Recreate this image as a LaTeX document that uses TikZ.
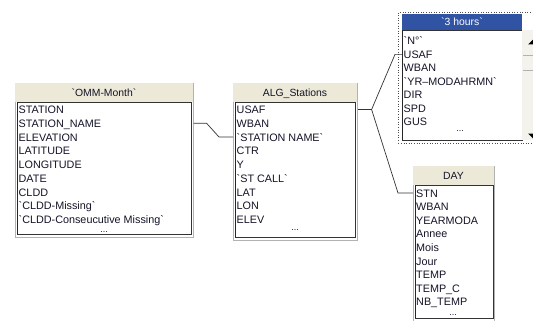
\documentclass[tikz,border=0pt]{standalone}
\usepackage{fontspec}
\setmainfont{Liberation Sans}
\definecolor{hdr}{RGB}{236,233,216}
\definecolor{selblue}{RGB}{49,83,164}
\definecolor{txt}{RGB}{20,20,40}
\definecolor{sbar}{RGB}{243,242,236}
\newcommand{\bq}{\textasciigrave}
\begin{document}
\begin{tikzpicture}[x=1pt,y=-1pt,
  frame/.style={draw=gray!60, fill=white, line width=0.6pt, inner sep=0pt, anchor=north west},
  dotframe/.style={draw=black!70, dotted, fill=white, line width=0.6pt, inner sep=0pt, anchor=north west},
  list/.style={draw=black!80, fill=white, line width=0.7pt, inner sep=0pt, anchor=north west},
  row/.style={anchor=west, inner sep=0pt, text height=8pt, text depth=0pt, font=\fontsize{10.8}{12}\selectfont, text=txt},
  dots/.style={inner sep=0pt, text height=1.5pt, text depth=0pt, font=\fontsize{9}{10}\selectfont, text=txt},
  title/.style={inner sep=0pt, text height=8pt, text depth=0pt, font=\fontsize{10.4}{12}\selectfont, text=txt},
  link/.style={draw=black!80, line width=0.7pt}]
\useasboundingbox (0,0) rectangle (533,321);
\fill[white] (0,0) rectangle (533,321);

% ---------- `OMM-Month` ----------
\node[frame, minimum width=178pt, minimum height=154pt] (omm) at (15,83) {};
\fill[hdr] (15.4,83.4) rectangle (192.6,102);
\node[list, minimum width=174pt, minimum height=132pt] (ommlist) at (17,102) {};
\draw[black!85, line width=1pt] (17.3,102) -- (17.3,234);
\node[title] (ommt) at (104,92.5) {\bq OMM-Month\bq};
\foreach \t [count=\i] in {STATION, STATION\_NAME, ELEVATION, LATITUDE, LONGITUDE, DATE, CLDD, \bq CLDD-Missing\bq, \bq CLDD-Conseucutive Missing\bq}
  \node[row] (omm\i) at (18.5,95.75+13.75*\i) {\t};
\node[dots] (ommdots) at (104,232) {...};

% ---------- ALG_Stations ----------
\node[frame, minimum width=124pt, minimum height=157pt] (alg) at (233,83) {};
\fill[hdr] (233.4,83.4) rectangle (356.6,102);
\node[list, minimum width=120pt, minimum height=135pt] (alglist) at (235,102) {};
\draw[black!85, line width=1pt] (235.3,102) -- (235.3,237);
\node[title] (algt) at (295,92.5) {ALG\_Stations};
\foreach \t [count=\i] in {USAF, WBAN, \bq STATION NAME\bq, CTR, Y, \bq ST CALL\bq, LAT, LON, ELEV}
  \node[row] (alg\i) at (236.5,95.75+13.75*\i) {\t};
\node[dots] (algdots) at (295,229.5) {...};

% ---------- `3 hours` ----------
\node[dotframe, minimum width=134.5pt, minimum height=131pt] (hrs) at (398,12) {};
\fill[selblue] (402,14) rectangle (522,30);
\node[list, minimum width=120pt, minimum height=110pt] (hrslist) at (402,30) {};
\draw[black!85, line width=1pt] (402.3,30) -- (402.3,140);
\fill[sbar] (522.4,30) rectangle (533,140);
\draw[gray!60, line width=0.5pt] (523,55) -- (533,55) (523,70) -- (533,70);
\fill[black] (528,44.5) -- (533,44.5) -- (533,39.5) -- cycle;
\fill[black] (528,133.5) -- (533,133.5) -- (533,138.5) -- cycle;
\node[title, text=white] (hrst) at (462,22) {\bq 3 hours\bq};
\foreach \t [count=\i] in {\bq N°\bq, USAF, WBAN, \bq YR--MODAHRMN\bq, DIR, SPD, GUS}
  \node[row] (hrs\i) at (403.5,27.6+13.4*\i) {\t};
\node[dots] (hrsdots) at (460,130.5) {...};

% ---------- DAY ----------
\node[frame, minimum width=81pt, minimum height=154.5pt] (day) at (413,166) {};
\fill[hdr] (413.4,166.4) rectangle (493.6,185);
\node[list, minimum width=78pt, minimum height=133pt] (daylist) at (415,185) {};
\draw[black!85, line width=1pt] (415.3,185) -- (415.3,318);
\node[title] (dayt) at (453.5,175.5) {DAY};
\foreach \t [count=\i] in {STN, WBAN, YEARMODA, Annee, Mois, Jour, TEMP, TEMP\_C, NB\_TEMP}
  \node[row] (day\i) at (416,179.4+13.6*\i) {\t};
\node[dots] (daydots) at (453,315) {...};

% ---------- connectors ----------
\draw[link] (omm.east |- omm2) -- ++(13,0) -- ([xshift=-14pt]alg.west |- alg3) -- (alg.west |- alg3);
\draw[link] (alg.east |- alg1) -- ++(14,0) coordinate (jn);
\draw[link] (jn) -- ([xshift=-7pt]hrslist.west |- hrs2) -- (hrslist.west |- hrs2);
\draw[link] (jn) -- ([xshift=-15pt]day.west |- day1) -- (day.west |- day1);
\end{tikzpicture}
\end{document}
